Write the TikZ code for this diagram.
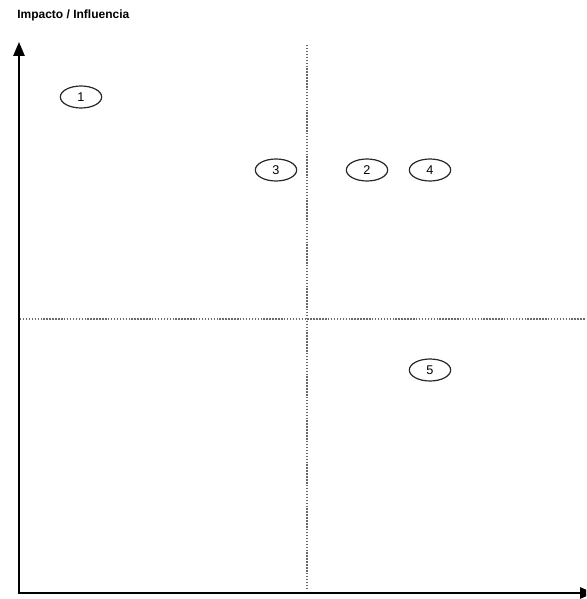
\documentclass[tikz,border=0pt]{standalone}
\usepackage{fontspec}
\setmainfont{Liberation Sans}
\usetikzlibrary{shapes,arrows,positioning}
\usetikzlibrary{arrows.meta}

\definecolor{axisGray}{RGB}{105,105,105}
\definecolor{ovalLine}{RGB}{40,40,40}

\begin{document}
\begin{tikzpicture}[x=0.75pt, y=-0.75pt,
    stakeholder/.style={ellipse, draw=ovalLine, line width=0.9pt, minimum width=31pt, minimum height=16.5pt, inner sep=0pt, font=\fontsize{9.5}{9.5}\selectfont},
    quadline/.style={axisGray, line width=1.5pt, dash pattern=on 1.1pt off 1.1pt},
    axisline/.style={black, line width=1.3pt, -{Triangle[length=10.5pt, width=8.5pt]}}]
    \useasboundingbox (0,0) rectangle (586,599);
    \clip (0,0) rectangle (586,599);

    % quadrants
    \coordinate (qtop) at (307,45);
    \coordinate (qbottom) at (307,590);
    \coordinate (qleft) at (20,319);
    \coordinate (qright) at (586,319);
    \draw[quadline] (qtop) -- (qbottom);
    \draw[quadline] (qleft) -- (qright);

    % axes
    \coordinate (origin) at (19,593);
    \coordinate (ytip) at (19,42);
    \coordinate (xtip) at (594,593);
    \draw[axisline] (origin) -- (ytip);
    \draw[axisline] ([xshift=-1pt]origin) -- (xtip);
    \node[anchor=west, font=\fontsize{9}{9}\selectfont\bfseries, inner sep=0pt] (ylabel) at (17,15) {Impacto / Influencia};

    % stakeholders
    \node[stakeholder] (s1) at (81,97) {1};
    \node[stakeholder] (s3) at (276,170) {3};
    \node[stakeholder] (s2) at (367,170) {2};
    \node[stakeholder] (s4) at (430,170) {4};
    \node[stakeholder] (s5) at (430,370) {5};
\end{tikzpicture}
\end{document}
